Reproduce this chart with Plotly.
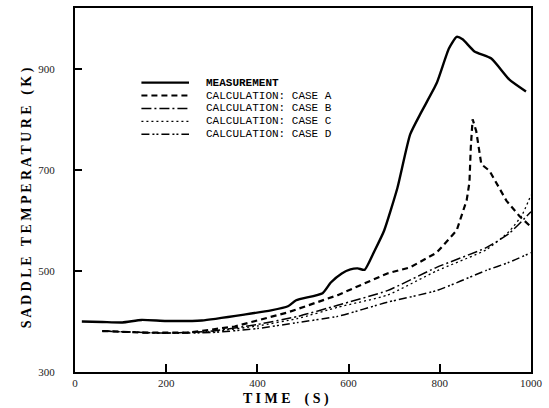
import plotly.graph_objects as go

# ---- data (time in s, temperature in K) ----
meas_t = [15, 60, 104, 146, 200, 278, 374, 430, 467, 485, 543, 561, 585, 604, 620, 635, 657, 678, 707, 735, 760, 793, 820, 837, 850, 876, 913, 952, 989]
meas_T = [400, 399, 398, 403, 401, 402, 414, 422, 430, 442, 456, 477, 495, 503, 505, 502, 540, 580, 664, 770, 815, 871, 940, 963, 958, 934, 920, 879, 855]

a_t = [60, 150, 250, 350, 467, 576, 685, 735, 793, 837, 859, 865, 868, 872, 880, 891, 909, 946, 975, 1000]
a_T = [381, 378, 378, 390, 418, 452, 495, 507, 536, 580, 640, 675, 745, 800, 776, 711, 698, 639, 608, 587]

b_t = [60, 200, 300, 400, 489, 576, 685, 793, 902, 952, 1000]
b_T = [381, 377, 381, 394, 410, 432, 461, 507, 546, 574, 617]

c_t = [60, 200, 300, 400, 489, 576, 685, 793, 902, 952, 980, 1000]
c_T = [381, 377, 380, 391, 406, 428, 452, 500, 542, 578, 610, 650]

d_t = [60, 200, 300, 400, 489, 576, 685, 793, 902, 952, 1000]
d_T = [381, 377, 378, 386, 398, 410, 438, 461, 501, 517, 536]

x_ticks = [0, 200, 400, 600, 800, 1000]
y_ticks = [300, 500, 700, 900]

legend_labels = ["MEASUREMENT", "CALCULATION: CASE A", "CALCULATION: CASE B",
                 "CALCULATION: CASE C", "CALCULATION: CASE D"]

styles = [
    dict(width=2.4, dash="solid"),
    dict(width=2.2, dash="6px,4px"),
    dict(width=1.5, dash="10px,3px,2px,3px"),
    dict(width=1.3, dash="2px,3px"),
    dict(width=1.5, dash="8px,3px,2px,2px,2px,3px"),
]
series = [(meas_t, meas_T, "spline"), (a_t, a_T, "linear"), (b_t, b_T, "spline"),
          (c_t, c_T, "spline"), (d_t, d_T, "spline")]

SERIF = "Liberation Serif, DejaVu Serif, Times New Roman, serif"
MONO = "Liberation Mono, DejaVu Sans Mono, Courier New, monospace"

fig = go.Figure()
for (t, T, shp), st, name in zip(series, styles, legend_labels):
    fig.add_trace(go.Scatter(x=t, y=T, mode="lines", name=name, showlegend=False,
                             line=dict(color="black", width=st["width"], dash=st["dash"],
                                       shape=shp, smoothing=0.5)))

# manual legend (paper coords)
L, R, T0 = 75, 535, 6
B0 = 372
W, H = R - L, B0 - T0
rows_py = [81, 94, 107, 120, 133]
for i, (py, st, name) in enumerate(zip(rows_py, styles, legend_labels)):
    yy = (B0 - py) / H
    fig.add_shape(type="line", xref="paper", yref="paper",
                  x0=(142 - L) / W, x1=(190 - L) / W, y0=yy, y1=yy,
                  line=dict(color="black", width=st["width"], dash=st["dash"]))
    txt = "<b>" + name + "</b>" if i == 0 else name
    fig.add_annotation(xref="paper", yref="paper", x=(205 - L) / W, y=yy,
                       text=txt, showarrow=False, xanchor="left", yanchor="middle",
                       font=dict(family=MONO, size=11, color="black"))

title_font = dict(family=SERIF, size=14, color="black")
fig.add_annotation(xref="paper", yref="paper", x=(288 - L) / W, y=(B0 - 399) / H,
                   text="<b>T I M E    ( S )</b>", showarrow=False,
                   xanchor="center", yanchor="middle", font=title_font)
fig.add_annotation(xref="paper", yref="paper", x=(27 - L) / W, y=(B0 - 197) / H,
                   text="<b>S A D D L E   T E M P E R A T U R E   ( K )</b>", showarrow=False,
                   textangle=-90, xanchor="center", yanchor="middle", font=title_font)

tick_font = dict(family=SERIF, size=11, color="#222")
fig.update_xaxes(range=[0, 1000], tickvals=x_ticks, ticks="inside", ticklen=8,
                 tickwidth=2, tickcolor="black", showgrid=False, zeroline=False,
                 showline=True, linecolor="black", linewidth=2, mirror=True,
                 tickfont=tick_font, ticklabelstandoff=0)
fig.update_yaxes(range=[300, 1020], tickvals=y_ticks, ticks="inside", ticklen=7,
                 tickwidth=2, tickcolor="black", showgrid=False, zeroline=False,
                 showline=True, linecolor="black", linewidth=2, mirror=True,
                 tickfont=tick_font, ticklabelstandoff=16)
fig.update_layout(width=549, height=408, margin=dict(l=L, r=549 - R, t=T0, b=408 - B0),
                  paper_bgcolor="white", plot_bgcolor="white", showlegend=False)

fig.write_html("out.html")
